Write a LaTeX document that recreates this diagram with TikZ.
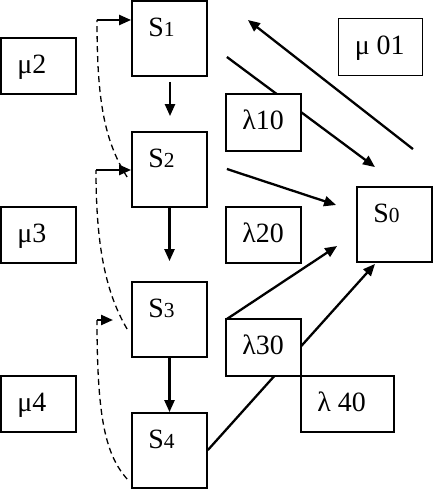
\documentclass[tikz,border=0pt]{standalone}
\usepackage{fontspec}
\setmainfont{Liberation Serif}
\usetikzlibrary{arrows.meta}
\pgfdeclarelayer{bg}
\pgfsetlayers{bg,main}
\newcommand{\smalldig}[1]{{\fontsize{21.5}{21.5}\selectfont #1}}
\begin{document}
\begin{tikzpicture}[x=1bp,y=-1bp,
 box/.style={draw, line width=1.8bp, fill=white, inner sep=0pt},
 sbox/.style={box, minimum width=75bp, minimum height=75bp},
 rbox/.style={box, minimum height=56bp},
 lab/.style={anchor=base west, inner sep=0pt, xshift=17bp, yshift=-36.5bp, font=\fontsize{28}{30}\selectfont},
 arr/.style={line width=2.3bp, -{Triangle[length=12bp,width=10bp]}},
 dsh/.style={line width=1.3bp, dash pattern=on 6bp off 4bp}
]
\useasboundingbox (0,0) rectangle (433,489);
% state boxes
\node[sbox, label={[lab]north west:S\smalldig{1}}] (S1) at (169.5,38.5) {};
\node[sbox, label={[lab]north west:S\smalldig{2}}] (S2) at (169.5,169.5) {};
\node[sbox, label={[lab]north west:S\smalldig{3}}] (S3) at (169.5,319.5) {};
\node[sbox, label={[lab]north west:S\smalldig{4}}] (S4) at (169.5,450.5) {};
\node[sbox, label={[lab]north west:S\smalldig{0}}] (S0) at (394.5,224.5) {};
% rate boxes
\node[rbox, minimum width=75bp, label={[lab]north west:μ2}] (m2) at (38.5,66) {};
\node[rbox, minimum width=75bp, label={[lab]north west:μ3}] (m3) at (38.5,235) {};
\node[rbox, minimum width=75bp, label={[lab]north west:μ4}] (m4) at (38.5,404) {};
\node[rbox, minimum width=84bp, minimum height=57bp, label={[lab]north west:μ 01}] (m01) at (380.5,47) {};
\node[rbox, minimum width=75bp, minimum height=57bp, label={[lab]north west:λ10}] (l10) at (263.5,122.5) {};
\node[rbox, minimum width=75bp, label={[lab]north west:λ20}] (l20) at (263.5,235) {};
\node[rbox, minimum width=75bp, minimum height=57bp, label={[lab]north west:λ30}] (l30) at (263.5,347.5) {};
\node[rbox, minimum width=93bp, label={[lab]north west:λ 40}] (l40) at (347.5,404) {};
% connectors
\coordinate (k1) at (97,20);
\coordinate (k2) at (96,170);
\coordinate (k3) at (97,320);
\coordinate (t3) at (113,320);
\begin{pgfonlayer}{bg}
\draw[arr] ([shift={(0.5,5)}]S1.south) -- ([shift={(0.5,-15)}]S2.north);
\draw[arr] (S2.south) -- ([shift={(0,-20)}]S3.north);
\draw[arr] (S3.south) -- (S4.north);
\draw[arr] ([shift={(19,18.5)}]S1.east) -- ([shift={(-19.5,-19)}]S0.north);
\draw[arr] ([shift={(19,-0.5)}]S2.east) -- ([shift={(-20,-19.5)}]S0.west);
\draw[arr] ([shift={(18.5,-37)}]S0.north) -- ([shift={(40,-18.5)}]S1.east);
\draw[arr] ([shift={(19,-0.5)}]S3.east) -- ([shift={(-19,21.5)}]S0.west);
\draw[arr] ([shift={(0,-0.5)}]S4.east) -- ([shift={(-19.5,1)}]S0.south);
\draw[dsh] ([shift={(-4,7.5)}]S2.west) .. controls (104,140) and (97,100) .. (k1);
\draw[arr] (k1) -- (k1 -| S1.west);
\draw[dsh] ([shift={(-4,9.5)}]S3.west) .. controls (104,290) and (96,240) .. (k2);
\draw[arr] (k2) -- (k2 -| S2.west);
\draw[dsh] ([shift={(-4,28.5)}]S4.west) .. controls (106,455) and (97,420) .. (k3);
\draw[arr] (k3) -- (t3);
\end{pgfonlayer}
\end{tikzpicture}
\end{document}
